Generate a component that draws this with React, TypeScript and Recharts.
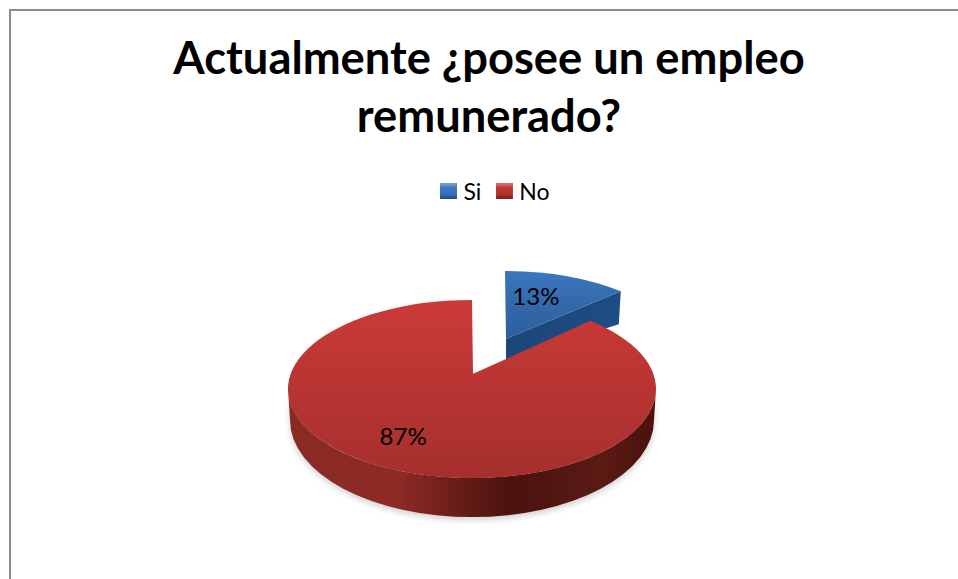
import React from "react";
import { PieChart, Pie, Legend } from "recharts";

const titleLines = ["Actualmente ¿posee un empleo", "remunerado?"];
const categories = ["Si", "No"];
const shares = [13, 87];
const data = categories.map((name, i) => ({ name, value: shares[i] }));

const W = 958;
const H = 579;
const FONT = "Lato, Carlito, 'Open Sans', sans-serif";
const TILT = 0.484;
const PERSPECTIVE = 0.17;

type Look = {
  dx: number; dy: number; scale: number; apexK: number; depth: number;
  top: string; side: string; labelR: number; labelShift: number;
};
const looks: Record<string, Look> = {
  Si: { dx: 33, dy: -31, scale: 0.978, apexK: 0.22, depth: 33, top: "url(#topBlue)", side: "url(#sideBlue)", labelR: 0.74, labelShift: 10 },
  No: { dx: 0, dy: 0, scale: 1, apexK: 0.17, depth: 31, top: "url(#topRed)", side: "url(#sideRed)", labelR: 0.646, labelShift: -12 },
};

const rad = (d: number) => (d * Math.PI) / 180;

// Boundary action of the disc's projective map: where a rim angle lands under perspective.
function warp(deg: number) {
  const k = PERSPECTIVE / (1 + Math.sqrt(1 - PERSPECTIVE * PERSPECTIVE));
  const c = Math.cos(rad(deg));
  const s = Math.sin(rad(deg));
  const a = Math.atan2(s + k, c);
  const b = Math.atan2(-k * c, 1 + k * s);
  return ((a - b) * 180) / Math.PI;
}

function Slice(props: any) {
  const { cx, cy, outerRadius, startAngle, endAngle, name } = props;
  const look = looks[name] ?? looks.No;
  const rx = outerRadius * look.scale;
  const ry = rx * TILT;
  const x0 = cx + look.dx;
  const y0 = cy + look.dy;
  const apexX = x0 + 1;
  const apexY = y0 - ry * look.apexK;
  const t1 = rad(warp(startAngle));
  const t2 = rad(warp(endAngle));
  const p = (t: number, yc = y0, a = rx, b = ry) => [x0 + a * Math.cos(t), yc - b * Math.sin(t)];
  const [ax, ay] = p(t1);
  const [bx, by] = p(t2);
  const span = Math.abs(startAngle - endAngle);
  const large = span > 180 ? 1 : 0;
  const topPath = `M${apexX},${apexY} L${ax},${ay} A${rx},${ry} 0 ${large} 1 ${bx},${by} Z`;

  if (name === "Si") {
    const wall = `M${apexX},${apexY} L${bx},${by} L${bx - 2},${by + look.depth} L${apexX},${apexY + 21} Z`;
    return (
      <g>
        <path d={wall} fill={look.side} />
        <path d={topPath} fill={look.top} />
      </g>
    );
  }

  const rx2 = rx - 2;
  const ry2 = ry + 8;
  const yc2 = y0 + look.depth;
  const side = `M${x0 + rx},${y0} A${rx},${ry} 0 0 1 ${x0 - rx},${y0} L${x0 - rx2},${yc2} A${rx2},${ry2} 0 0 0 ${x0 + rx2},${yc2} Z`;
  return (
    <g>
      <path d={side} transform="translate(0 3)" fill="#000" opacity={0.18} filter="url(#soft)" />
      <path d={side} fill={look.side} />
      <path d={topPath} fill={look.top} />
    </g>
  );
}

function pieLabel(props: any) {
  const { cx, cy, outerRadius, midAngle, percent, name } = props;
  const look = looks[name] ?? looks.No;
  const rx = outerRadius * look.scale;
  const ry = rx * TILT;
  const t = rad((midAngle ?? 0) + look.labelShift);
  return (
    <text
      x={cx + look.dx + rx * look.labelR * Math.cos(t)}
      y={cy + look.dy - ry * look.labelR * Math.sin(t)}
      textAnchor="middle"
      dominantBaseline="central"
      fontFamily={FONT}
      fontSize={24}
      fill="#000"
    >
      {`${Math.round(percent * 100)}%`}
    </text>
  );
}

const legendFills: Record<string, [string, string]> = { Si: ["#2f6db4", "#3f7cc4"], No: ["#a92c2a", "#c63e3b"] };

function LegendBox() {
  return (
    <div style={{ display: "flex", justifyContent: "center", gap: 15, fontFamily: FONT, fontSize: 23, color: "#000", lineHeight: "26px" }}>
      {categories.map((c) => (
        <span key={c} style={{ display: "inline-flex", alignItems: "center", gap: 6 }}>
          <span style={{ width: 17, height: 16, display: "inline-block", background: `linear-gradient(180deg, ${legendFills[c][1]} 0%, ${legendFills[c][0]} 100%)`, boxShadow: "inset 0 -3px 2px rgba(0,0,0,.25), inset 0 3px 2px rgba(255,255,255,.25)" }} />
          {c}
        </span>
      ))}
    </div>
  );
}

export default function App() {
  return (
    <div style={{ position: "absolute", left: 0, top: 0, width: W, height: H, background: "#fff" }}>
      <PieChart width={W} height={H} margin={{ top: 0, right: 0, bottom: 0, left: 0 }}>
        <defs>
          <linearGradient id="topRed" x1="0" y1="0" x2="0" y2="1">
            <stop offset="0" stopColor="#cb3a37" />
            <stop offset="1" stopColor="#a52f2d" />
          </linearGradient>
          <linearGradient id="sideRed" x1="0" y1="0" x2="1" y2="0">
            <stop offset="0" stopColor="#8a2a25" />
            <stop offset="0.3" stopColor="#8e2a25" />
            <stop offset="0.6" stopColor="#4a120e" />
            <stop offset="0.85" stopColor="#5b1a14" />
            <stop offset="1" stopColor="#4a120e" />
          </linearGradient>
          <linearGradient id="topBlue" x1="0" y1="0" x2="0" y2="1">
            <stop offset="0" stopColor="#3b76bd" />
            <stop offset="1" stopColor="#2b5d9c" />
          </linearGradient>
          <linearGradient id="sideBlue" x1="0" y1="0" x2="1" y2="0">
            <stop offset="0" stopColor="#1c4679" />
            <stop offset="1" stopColor="#1e4d84" />
          </linearGradient>
          <filter id="soft" x="-10%" y="-20%" width="120%" height="140%">
            <feGaussianBlur stdDeviation="3" />
          </filter>
        </defs>
        <line x1={9} y1={10} x2={W} y2={10} stroke="#8c8c8c" strokeWidth={2} />
        <line x1={10} y1={9} x2={10} y2={H} stroke="#8c8c8c" strokeWidth={2} />
        {titleLines.map((line, i) => (
          <text key={line} x={489} y={74 + i * 58} textAnchor="middle" fontFamily={FONT} fontWeight={700} fontSize={45.3} fill="#000">
            {line}
          </text>
        ))}
        <Legend verticalAlign="top" wrapperStyle={{ top: 178, left: 16, width: W }} content={LegendBox as any} />
        <Pie
          data={data}
          dataKey="value"
          nameKey="name"
          cx={472}
          cy={363}
          outerRadius={184}
          startAngle={90}
          endAngle={-270}
          stroke="none"
          isAnimationActive={false}
          labelLine={false}
          label={pieLabel}
          shape={Slice as any}
          activeShape={Slice as any}
          inactiveShape={Slice as any}
        />
      </PieChart>
    </div>
  );
}
